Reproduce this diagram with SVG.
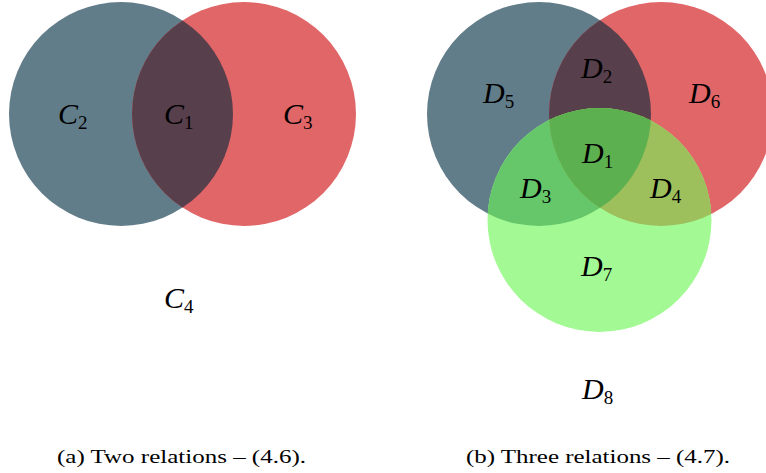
<svg xmlns="http://www.w3.org/2000/svg" width="766" height="473" viewBox="0 0 766 473">
<style>
.m{font-family:"Liberation Serif","DejaVu Serif",serif;font-style:italic;font-size:30px;fill:#000}
.s{font-style:normal;font-size:19px}
.cap{font-family:"Liberation Serif","DejaVu Serif",serif;font-size:19px;fill:#000}
</style>
<defs>
<clipPath id="cA"><circle cx="121" cy="114" r="112"/></clipPath>
<clipPath id="cP"><circle cx="539" cy="114" r="112"/></clipPath>
<clipPath id="cQ"><circle cx="661" cy="114" r="112"/></clipPath>
<clipPath id="cR"><circle cx="599.5" cy="220" r="112"/></clipPath>
</defs>
<rect width="766" height="473" fill="#fff"/>
<g id="venn-a">
<circle cx="121" cy="114" r="112" fill="#627d8a"/>
<circle cx="244" cy="114" r="112" fill="#e06668"/>
<circle cx="244" cy="114" r="112" fill="#583f4c" clip-path="url(#cA)"/>
</g>
<g id="venn-b">
<circle cx="539" cy="114" r="112" fill="#627d8a"/>
<circle cx="661" cy="114" r="112" fill="#e06668"/>
<circle cx="599.5" cy="220" r="112" fill="#a3fa94"/>
<g clip-path="url(#cP)"><circle cx="661" cy="114" r="112" fill="#583f4c"/><circle cx="599.5" cy="220" r="112" fill="#66c66a"/></g>
<g clip-path="url(#cQ)"><circle cx="599.5" cy="220" r="112" fill="#9dbf5c"/></g>
<g clip-path="url(#cP)"><g clip-path="url(#cQ)"><circle cx="599.5" cy="220" r="112" fill="#5db04f"/></g></g>
</g>
<g id="labels-a">
<text class="m" x="58" y="124">C<tspan class="s" dy="5">2</tspan></text>
<text class="m" x="164" y="124">C<tspan class="s" dy="5">1</tspan></text>
<text class="m" x="283" y="124">C<tspan class="s" dy="5">3</tspan></text>
<text class="m" x="164" y="308">C<tspan class="s" dy="5">4</tspan></text>
</g>
<g id="labels-b">
<text class="m" x="483" y="103">D<tspan class="s" dy="5">5</tspan></text>
<text class="m" x="581" y="78">D<tspan class="s" dy="5">2</tspan></text>
<text class="m" x="689" y="103">D<tspan class="s" dy="5">6</tspan></text>
<text class="m" x="582" y="163">D<tspan class="s" dy="5">1</tspan></text>
<text class="m" x="520" y="198">D<tspan class="s" dy="5">3</tspan></text>
<text class="m" x="650" y="198">D<tspan class="s" dy="5">4</tspan></text>
<text class="m" x="581" y="276">D<tspan class="s" dy="5">7</tspan></text>
<text class="m" x="582" y="399">D<tspan class="s" dy="5">8</tspan></text>
</g>
<g id="captions">
<text class="cap" x="57" y="463" textLength="249" lengthAdjust="spacingAndGlyphs">(a) Two relations – (4.6).</text>
<text class="cap" x="466" y="463" textLength="264" lengthAdjust="spacingAndGlyphs">(b) Three relations – (4.7).</text>
</g>
</svg>
